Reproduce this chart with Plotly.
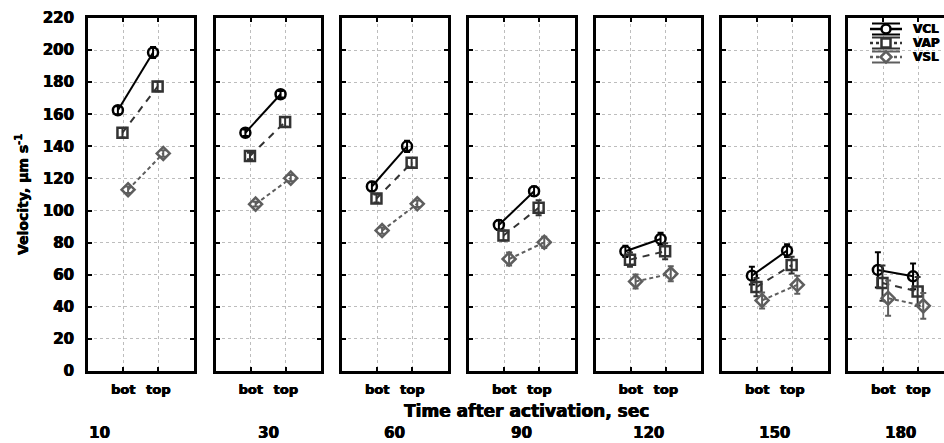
import plotly.graph_objects as go

# Time after activation (sec), one panel per time point
times = ["10", "30", "60", "90", "120", "150", "180"]
positions = ["bot", "top"]

# Mean velocities (µm/s) per time point: [bot, top]
vcl = [[162.5, 198.5], [148.5, 172.5], [115.0, 140.0], [91.0, 112.0],
       [74.6, 82.3], [59.4, 75.0], [63.0, 59.0]]
vap = [[148.5, 177.3], [134.0, 155.2], [107.5, 129.8], [84.4, 101.7],
       [69.4, 74.6], [52.3, 66.0], [54.8, 49.6]]
vsl = [[113.0, 135.6], [104.0, 120.2], [87.5, 104.2], [69.8, 80.2],
       [55.8, 60.6], [44.0, 53.7], [45.4, 40.6]]

# Error half-widths: [bot, top]
vcl_err = [[2.5, 3.5], [2.0, 2.0], [3.0, 3.5], [3.0, 3.0], [3.5, 3.8], [5.5, 4.0], [11.0, 8.0]]
vap_err = [[3.0, 3.0], [2.0, 3.0], [2.5, 3.0], [3.0, 4.7], [4.5, 5.0], [5.7, 5.2], [11.0, 9.0]]
vsl_err = [[2.0, 2.0], [1.5, 2.0], [2.0, 2.0], [4.0, 3.5], [4.4, 4.7], [5.0, 5.6], [11.0, 8.0]]

W, H = 944, 443
FONT = "DejaVu Sans"
HEAVY = "0.5px 0 0 black, -0.3px 0 0 black"


def px(x):
    return x / W


def py(y):
    return 1 - y / H


def bold(size):
    return dict(family=FONT, size=size, weight="bold", color="black", shadow=HEAVY)


series = [
    dict(name="VCL", vals=vcl, err=vcl_err, color="#000000", dash="solid",
         symbol="circle-open", offset=-0.15),
    dict(name="VAP", vals=vap, err=vap_err, color="#333333", dash="7px,6px",
         symbol="square-open", offset=-0.02),
    dict(name="VSL", vals=vsl, err=vsl_err, color="#5e5e5e", dash="4px,3px",
         symbol="diamond-open", offset=0.14),
]

panel_left = [88, 215.5, 342, 469, 595.5, 722, 848]
panel_w = 105.5
y_top, y_bot = 18, 371

fig = go.Figure()
layout = dict(
    width=W, height=H,
    margin=dict(l=0, r=0, t=0, b=0, autoexpand=False),
    paper_bgcolor="white", plot_bgcolor="white",
    showlegend=False,
    font=dict(family=FONT, color="black"),
)

group_label_x = [0.34, 1.5, 1.5, 1.5, 1.5, 1.5, 1.5]
annotations = []

for i, t in enumerate(times):
    n = i + 1
    xa = "x" if n == 1 else f"x{n}"
    ya = "y" if n == 1 else f"y{n}"
    x0 = panel_left[i]
    x1 = min(x0 + panel_w, W)
    xmax = 3 * (x1 - x0) / panel_w

    layout["xaxis" if n == 1 else f"xaxis{n}"] = dict(
        domain=[px(x0), px(x1)], anchor=ya, range=[0, xmax], automargin=False,
        tickvals=[1, 2], ticktext=positions,
        showgrid=True, gridcolor="#bdbdbd", griddash="dot", gridwidth=1,
        zeroline=False, showline=True, linecolor="black", linewidth=3,
        mirror="allticks", ticks="inside", ticklen=4, tickwidth=2,
        tickcolor="black", ticklabelstandoff=4,
        tickfont=bold(13),
    )
    layout["yaxis" if n == 1 else f"yaxis{n}"] = dict(
        domain=[py(y_bot), py(y_top)], anchor=xa, range=[0, 220], automargin=False,
        tick0=0, dtick=20, showticklabels=(n == 1),
        showgrid=True, gridcolor="#bdbdbd", griddash="dot", gridwidth=1,
        zeroline=False, showline=True, linecolor="black", linewidth=3,
        mirror=("allticks" if n < 7 else False), ticks="inside", ticklen=4,
        tickwidth=2, tickcolor="black", ticklabelstandoff=8,
        tickfont=bold(15),
    )

    for s in series:
        fig.add_trace(go.Scatter(
            x=[1 + s["offset"], 2 + s["offset"]], y=s["vals"][i],
            xaxis=xa, yaxis=ya, mode="lines+markers", name=s["name"],
            line=dict(color=s["color"], width=2, dash=s["dash"]),
            marker=dict(symbol=s["symbol"], size=10, color=s["color"],
                        line=dict(width=2.5, color=s["color"])),
            error_y=dict(type="data", array=s["err"][i], visible=True,
                         color=s["color"], thickness=2, width=3),
            cliponaxis=False,
        ))

    annotations.append(dict(
        x=group_label_x[i], xref=xa, y=py(432.5), yref="paper",
        text=t, showarrow=False, xanchor="center", yanchor="middle",
        font=bold(15),
    ))

# Axis titles
annotations.append(dict(
    x=px(526), y=py(411), xref="paper", yref="paper",
    text="Time after activation, sec", showarrow=False,
    xanchor="center", yanchor="middle",
    font=bold(17),
))
annotations.append(dict(
    x=px(22), y=py(195), xref="paper", yref="paper",
    text="Velocity, µm s<sup>-1</sup>", showarrow=False, textangle=-90,
    xanchor="center", yanchor="middle",
    font=bold(14),
))

# Legend block inside the last panel
shapes = []
leg_rows = [29, 43, 57]
lx0, lx1, lmx = 870, 902, 886
for s, ly in zip(series, leg_rows):
    c = s["color"]
    for dy in (-5.5, 5.5):
        shapes.append(dict(type="line", xref="paper", yref="paper",
                           x0=px(lx0 + 2), x1=px(lx1 - 2), y0=py(ly + dy), y1=py(ly + dy),
                           line=dict(color=c, width=2)))
    shapes.append(dict(type="line", xref="paper", yref="paper",
                       x0=px(lx0), x1=px(lx1), y0=py(ly), y1=py(ly),
                       line=dict(color=c, width=2.5,
                                 dash=("solid" if s["dash"] == "solid" else "dot"))))
    r = 4.5
    if s["name"] == "VCL":
        shapes.append(dict(type="circle", xref="paper", yref="paper",
                           x0=px(lmx - r), x1=px(lmx + r), y0=py(ly + r), y1=py(ly - r),
                           fillcolor="white", line=dict(color=c, width=2.5)))
    elif s["name"] == "VAP":
        shapes.append(dict(type="rect", xref="paper", yref="paper",
                           x0=px(lmx - r), x1=px(lmx + r), y0=py(ly + r), y1=py(ly - r),
                           fillcolor="white", line=dict(color=c, width=2.5)))
    else:
        path = (f"M {px(lmx)},{py(ly - r - 1)} L {px(lmx + r + 1)},{py(ly)} "
                f"L {px(lmx)},{py(ly + r + 1)} L {px(lmx - r - 1)},{py(ly)} Z")
        shapes.append(dict(type="path", xref="paper", yref="paper", path=path,
                           fillcolor="white", line=dict(color=c, width=2.5)))
    annotations.append(dict(
        x=px(911), y=py(ly), xref="paper", yref="paper", text=s["name"],
        showarrow=False, xanchor="left", yanchor="middle",
        font=bold(12),
    ))

layout["annotations"] = annotations
layout["shapes"] = shapes
fig.update_layout(**layout)
fig.write_html("out.html")
